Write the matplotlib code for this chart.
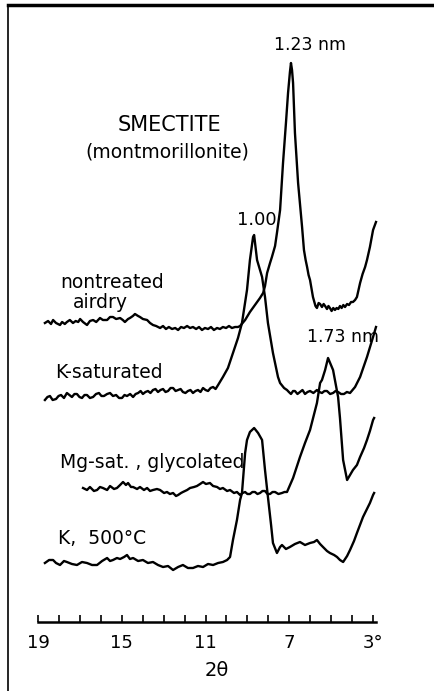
import matplotlib.pyplot as plt
from matplotlib.lines import Line2D
from matplotlib.ticker import FixedLocator
import numpy as np

# smectite (montmorillonite) XRD traces
# x in degrees 2-theta, counts relative to each trace baseline (arb. units)
nontreated_2theta = [18.67, 18.52, 18.38, 18.28, 18.14, 17.95, 17.85, 17.72, 17.62, 17.48,
                     17.33, 17.20, 17.08, 16.99, 16.85, 16.66, 16.52, 16.37, 16.22, 16.04,
                     15.90, 15.70, 15.56, 15.42, 15.27, 15.08, 14.95, 14.85, 14.70, 14.61,
                     14.47, 14.37, 14.22, 14.13, 13.99, 13.79, 13.65, 13.51, 13.36, 13.17,
                     13.03, 12.89, 12.75, 12.60, 12.45, 12.31, 12.17, 12.03, 11.88, 11.74,
                     11.60, 11.45, 11.31, 11.17, 11.03, 10.88, 10.74, 10.60, 10.45, 10.31,
                     10.17, 10.02, 9.88, 9.74, 9.59, 9.45, 9.35, 9.11, 8.88, 8.64,
                     8.40, 8.25, 8.16, 8.06, 7.92, 7.83, 7.68, 7.59, 7.44, 7.30,
                     7.16, 7.06, 6.97, 6.92, 6.87, 6.82, 6.73, 6.58, 6.39, 6.30,
                     6.22, 6.15, 6.08, 6.01, 5.87, 5.75, 5.68, 5.60, 5.53, 5.44,
                     5.36, 5.29, 5.20, 5.13, 5.06, 4.98, 4.90, 4.82, 4.74, 4.66,
                     4.58, 4.50, 4.42, 4.34, 4.24, 4.15, 4.05, 3.96, 3.86, 3.77,
                     3.62, 3.50, 3.38, 3.29, 3.15, 3.00, 2.86]
nontreated_counts = [5, 7, 4, 8, 5, 3, 6, 4, 6, 8,
                     5, 7, 6, 9, 6, 3, 7, 8, 6, 10,
                     8, 8, 11, 11, 9, 10, 8, 6, 9, 10,
                     12, 14, 12, 11, 9, 8, 5, 3, 2, 0,
                     2, -1, 1, -1, 0, -2, 1, 0, 2, 0,
                     1, -1, 1, -2, 0, -1, 1, -2, 0, -1,
                     1, 0, 2, 0, 1, 1, 2, 8, 16, 23,
                     30, 35, 42, 55, 65, 71, 82, 95, 118, 165,
                     205, 235, 256, 265, 258, 245, 195, 145, 101, 78,
                     68, 61, 53, 48, 31, 22, 20, 25, 24, 21,
                     24, 22, 19, 22, 20, 17, 20, 18, 20, 19,
                     22, 20, 23, 21, 24, 23, 26, 26, 28, 31,
                     45, 54, 61, 68, 81, 98, 106]

ksat_2theta = [18.67, 18.55, 18.43, 18.30, 18.14, 18.02, 17.90, 17.76, 17.62, 17.50,
               17.38, 17.26, 17.14, 17.02, 16.90, 16.78, 16.66, 16.52, 16.37, 16.23,
               16.09, 15.97, 15.85, 15.70, 15.56, 15.42, 15.27, 15.13, 14.99, 14.87,
               14.75, 14.60, 14.46, 14.34, 14.22, 14.10, 13.99, 13.87, 13.75, 13.63,
               13.51, 13.39, 13.27, 13.15, 13.03, 12.91, 12.79, 12.67, 12.55, 12.43,
               12.31, 12.19, 12.08, 11.96, 11.84, 11.72, 11.60, 11.48, 11.36, 11.24,
               11.12, 11.00, 10.88, 10.76, 10.64, 10.52, 10.40, 10.17, 9.93, 9.69,
               9.45, 9.26, 9.02, 8.88, 8.73, 8.68, 8.54, 8.30, 8.16, 8.02,
               7.78, 7.54, 7.44, 7.25, 7.11, 7.02, 6.92, 6.82, 6.73, 6.61,
               6.49, 6.37, 6.25, 6.13, 6.01, 5.85, 5.68, 5.56, 5.44, 5.32,
               5.20, 5.05, 4.91, 4.79, 4.67, 4.53, 4.39, 4.25, 4.10, 3.86,
               3.62, 3.29, 3.00, 2.86]
ksat_counts = [-7, -4, -3, -7, -6, -3, -2, -5, 0, -2,
               -4, -1, -1, -4, -5, -2, -2, -5, -4, -1,
               0, -3, -3, -1, 0, -3, -2, -5, -5, -2,
               -3, -1, -4, -1, 0, 2, -1, 1, 2, 0,
               3, 4, 1, 3, 4, 1, 2, 5, 5, 2,
               3, 4, 1, 0, 2, 3, 0, 2, 3, 1,
               5, 3, 2, 5, 6, 4, 8, 16, 25, 40,
               55, 70, 103, 133, 156, 158, 133, 116, 96, 70,
               40, 16, 10, 5, 3, 1, -1, 2, 2, -1,
               1, 3, -1, 1, 2, 0, 3, 1, 0, 2,
               2, -1, 0, 2, 1, -1, -1, 1, 0, 6,
               16, 36, 56, 66]

mg_2theta = [16.85, 16.66, 16.52, 16.33, 16.18, 16.04, 15.90, 15.70, 15.56, 15.37,
             15.23, 15.08, 14.94, 14.80, 14.70, 14.56, 14.46, 14.27, 14.13, 13.94,
             13.79, 13.65, 13.51, 13.32, 13.17, 12.98, 12.84, 12.70, 12.55, 12.41,
             12.31, 12.17, 12.08, 11.88, 11.74, 11.55, 11.41, 11.26, 11.12, 10.98,
             10.79, 10.64, 10.45, 10.31, 10.17, 9.97, 9.83, 9.64, 9.50, 9.35,
             9.23, 9.11, 9.00, 8.88, 8.76, 8.64, 8.52, 8.40, 8.28, 8.16,
             8.04, 7.92, 7.80, 7.68, 7.52, 7.35, 7.23, 7.11, 6.82, 6.49,
             6.25, 6.01, 5.68, 5.53, 5.44, 5.29, 5.15, 5.01, 4.91, 4.67,
             4.58, 4.43, 4.24, 4.10, 3.96, 3.77, 3.62, 3.43, 3.29, 3.15,
             3.00, 2.95]
mg_counts = [5, 3, 6, 2, 3, 6, 5, 3, 7, 4,
             5, 8, 11, 8, 10, 6, 6, 4, 6, 3,
             5, 2, 3, 4, 3, 0, 1, -1, 0, -3,
             -2, 0, 1, 3, 5, 6, 7, 9, 11, 9,
             10, 7, 6, 4, 5, 2, 3, 0, 1, -2,
             0, 1, -1, -1, 1, 1, -1, 0, 2, 2,
             -1, -1, 1, 1, -1, 0, 1, 1, 15, 36,
             50, 63, 90, 110, 113, 123, 135, 128, 123, 96,
             75, 33, 13, 18, 23, 28, 36, 45, 53, 62,
             73, 75]

k500_2theta = [18.67, 18.47, 18.28, 18.14, 17.95, 17.76, 17.62, 17.38, 17.14, 16.90,
               16.66, 16.42, 16.18, 15.94, 15.70, 15.56, 15.42, 15.23, 15.08, 14.89,
               14.75, 14.61, 14.46, 14.22, 13.99, 13.75, 13.51, 13.27, 13.03, 12.79,
               12.55, 12.31, 12.08, 11.84, 11.60, 11.36, 11.12, 10.88, 10.64, 10.40,
               10.17, 9.97, 9.83, 9.69, 9.50, 9.35, 9.26, 9.11, 9.02, 8.88,
               8.68, 8.49, 8.30, 8.16, 8.02, 7.87, 7.78, 7.59, 7.44, 7.35,
               7.16, 6.97, 6.73, 6.49, 6.25, 6.01, 5.82, 5.68, 5.53, 5.39,
               5.20, 5.06, 4.86, 4.72, 4.58, 4.43, 4.24, 4.10, 3.91, 3.77,
               3.48, 3.15, 3.00, 2.95]
k500_counts = [0, 3, 3, 0, -2, 2, 1, -1, -2, 1,
               0, -2, -2, 2, 5, 2, 3, 5, 4, 6,
               8, 4, 5, 2, 3, 0, 1, -2, -4, -3,
               -7, -4, -2, -5, -5, -3, -4, -1, -2, 0,
               1, 3, 6, 23, 43, 63, 70, 110, 123, 131,
               135, 130, 123, 93, 66, 38, 20, 10, 16, 18,
               14, 16, 19, 21, 18, 20, 21, 23, 19, 16,
               12, 10, 8, 6, 3, 1, 7, 13, 22, 30,
               46, 60, 68, 70]

traces = [
    (nontreated_2theta, nontreated_counts, 363),
    (ksat_2theta, ksat_counts, 298),
    (mg_2theta, mg_counts, 198),
    (k500_2theta, k500_counts, 128),
]

tick_major = [19, 15, 11, 7, 3]
tick_labels = ['19', '15', '11', '7', '3°']
tick_minor = list(range(3, 20))

fig = plt.figure(figsize=(4.34, 6.91), dpi=100)
ax = fig.add_axes([0, 0, 1, 1])
ax.patch.set_alpha(0)

for x, y, off in traces:
    ax.plot(x, np.array(y) + off, color='black', lw=1.7, solid_joinstyle='round')

ax.set_xlim(20.815, 0.09)
ax.set_ylim(0, 691)

for s in ['top', 'left', 'right']:
    ax.spines[s].set_visible(False)
ax.spines['bottom'].set_position(('data', 69))
ax.spines['bottom'].set_bounds(19, 2.85)
ax.spines['bottom'].set_linewidth(1.8)

ax.xaxis.set_major_locator(FixedLocator(tick_major))
ax.set_xticklabels(tick_labels)
ax.xaxis.set_minor_locator(FixedLocator(tick_minor))
ax.tick_params(axis='x', which='both', direction='in', length=5, width=1.2,
               pad=9, labelsize=13)
ax.set_yticks([])
ax.set_xlabel('2θ', fontsize=14, labelpad=6)

txt = dict(color='black', fontsize=13.5)
ax.text(6.01, 646, '1.23 nm', ha='center', va='center', color='black', fontsize=12.5)
ax.text(12.70, 566, 'SMECTITE', ha='center', va='center', color='black', fontsize=15)
ax.text(12.81, 539, '(montmorillonite)', ha='center', va='center', **txt)
ax.text(9.50, 471, '1.00', ha='left', va='center', color='black', fontsize=13)
ax.text(17.95, 409, 'nontreated', ha='left', va='center', **txt)
ax.text(17.33, 389, 'airdry', ha='left', va='center', **txt)
ax.text(18.19, 319, 'K-saturated', ha='left', va='center', **txt)
ax.text(6.15, 354, '1.73 nm', ha='left', va='center', color='black', fontsize=12.5)
ax.text(17.95, 229, 'Mg-sat. , glycolated', ha='left', va='center', **txt)
ax.text(18.04, 153, 'K,  500°C', ha='left', va='center', **txt)

# frame of the scanned page
fig.add_artist(Line2D([8 / 434, 1], [1 - 5 / 691, 1 - 5 / 691], lw=2.5, color='black'))
fig.add_artist(Line2D([8 / 434, 8 / 434], [0, 1 - 5 / 691], lw=1.2, color='black'))

fig.savefig('out.png', dpi=100)
